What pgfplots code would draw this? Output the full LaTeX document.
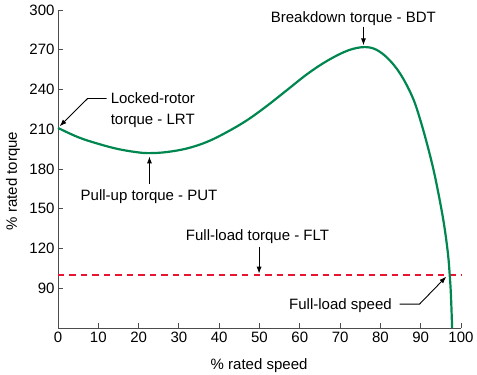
\documentclass[border=0pt]{standalone}
\usepackage{fontspec}
\setmainfont{Liberation Sans}
\usepackage{pgfplots}
\pgfplotsset{compat=1.18}
\usetikzlibrary{arrows.meta}
\definecolor{curvegreen}{RGB}{0,135,80}
\definecolor{flred}{RGB}{232,20,50}
\begin{document}
\begin{tikzpicture}
\path[use as bounding box] (-58pt,-47pt) rectangle (419pt,328pt);
\begin{axis}[
  at={(0pt,0pt)}, anchor=south west,
  scale only axis, width=403pt, height=318pt,
  xmin=0, xmax=100, ymin=60, ymax=300,
  axis lines*=left,
  xtick={0,10,...,100}, ytick={90,120,...,300},
  tick align=inside, major tick length=5pt,
  tick style={black!70, line width=0.8pt},
  axis line style={black!70, line width=0.9pt},
  font=\fontsize{15}{17}\selectfont,
  tick label style={font=\fontsize{15}{17}\selectfont},
  /pgf/number format/assume math mode=true,
  xlabel={\% rated speed}, ylabel={\% rated torque},
  xlabel style={at={(rel axis cs:0.499,-0.132)}, anchor=base},
  ylabel style={at={(rel axis cs:-0.1117,0.462)}, anchor=center},
  clip=false,
]
\addplot[flred, line width=1.8pt, dash pattern=on 6.5pt off 5pt] coordinates {(0,100) (100,100)};
\addplot[curvegreen, line width=2.2pt, smooth, tension=0.6] coordinates {
 (0,211) (5,204) (10,199) (15,195) (20,192.5) (23,192) (27,192.8) (32,195.5)
 (37,200.5) (42,208) (47,217) (52,228) (57,240) (62,252) (67,262) (72,269.5)
 (76,272) (79,270) (82,263) (85,251.5) (88,234) (90,216) (92,194) (93.5,175)
 (95,152) (96,134) (96.8,115) (97.2,100) (97.5,85) (97.8,60)
};
\tikzset{ann/.style={inner sep=0pt, font=\fontsize{15}{17}\selectfont},
         arr/.style={-{Latex[length=7pt,width=5pt]}, line width=0.9pt, black}}
\node[ann, anchor=base] at (axis cs:73.3,290.7) {Breakdown torque - BDT};
\draw[arr] (axis cs:75.8,287.4) -- (axis cs:75.8,273.3);
\node[ann, anchor=base west] at (axis cs:13.05,229.3) {Locked-rotor};
\node[ann, anchor=base west] at (axis cs:13.05,213.7) {torque - LRT};
\draw[arr] (axis cs:12.07,233.2) -- (axis cs:7.35,233.2) -- (axis cs:0.4,212.2);
\node[ann, anchor=base] at (axis cs:22.6,156.0) {Pull-up torque - PUT};
\draw[arr] (axis cs:22.7,169) -- (axis cs:22.7,189.5);
\node[ann, anchor=base] at (axis cs:49.5,126.4) {Full-load torque - FLT};
\draw[arr] (axis cs:49.9,121.4) -- (axis cs:49.9,101);
\node[ann, anchor=base] at (axis cs:70.1,74.3) {Full-load speed};
\draw[arr] (axis cs:84.8,78) -- (axis cs:89.7,78) -- (axis cs:96.35,98.8);
\end{axis}
\end{tikzpicture}
\end{document}
